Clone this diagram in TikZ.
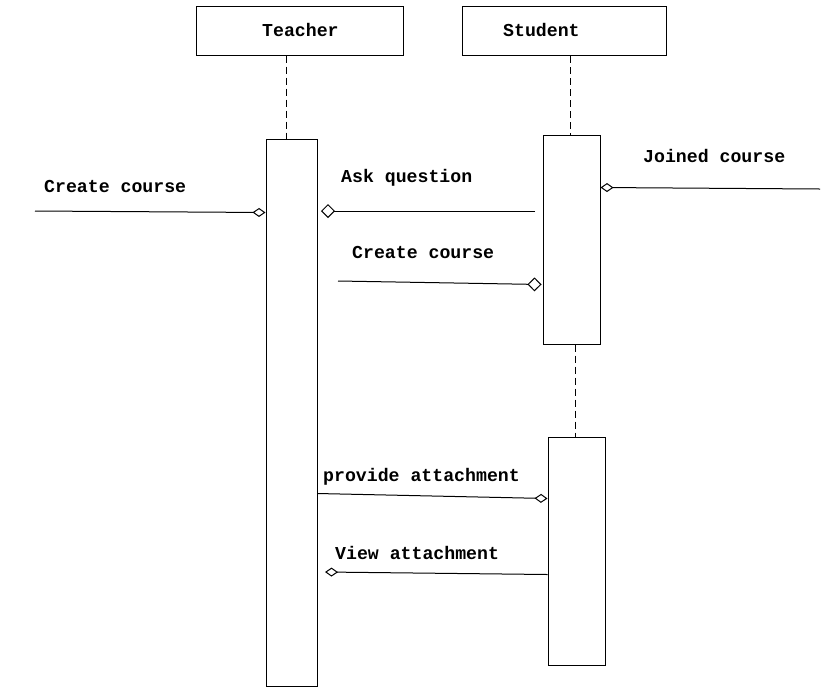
\documentclass[tikz,border=0pt]{standalone}
\usepackage{fontspec}
\setmonofont{Liberation Mono}
\usetikzlibrary{arrows.meta}
\tikzset{
	actor/.style={draw, line width=1pt, inner sep=0pt, minimum width=#1, minimum height=49pt},
	actbar/.style={draw, line width=1pt, inner sep=0pt, minimum width=#1},
	lbl/.style={anchor=base west, inner sep=0pt, font=\fontsize{18.2}{20}\selectfont\ttfamily\bfseries},
	lifeline/.style={line width=1pt, dash pattern=on 7pt off 4pt},
	msgline/.style={line width=1pt},
	bigdiam/.style={msgline, -{Diamond[open, length=14pt, width=14pt, line width=1pt]}},
	smalldiam/.style={msgline, -{Diamond[open, length=13pt, width=9pt, line width=1pt]}}
}

\begin{document}
\begin{tikzpicture}[x=1pt, y=-1pt]
			%%%%% START %%%%%
			
			\useasboundingbox (0, 0) rectangle (837, 697);
			
			% actors
			\node[actor=207pt] (teacher) at (299.5, 30.5) {};
			\node[actor=204pt] (student) at (564, 31) {};
			\node[lbl] (teacherlbl) at (262, 36) {Teacher};
			\node[lbl] (studentlbl) at (503, 36) {Student};
			
			% activation bars
			\node[actbar=51pt, minimum height=547pt] (tact) at (291.5, 412.5) {};
			\node[actbar=57pt, minimum height=209pt] (sact) at (571.5, 239.5) {};
			\node[actbar=57pt, minimum height=228pt] (sacttwo) at (576.5, 551) {};
			
			% lifelines
			\coordinate (tline) at (286, 0);
			\coordinate (sline) at (570, 0);
			\coordinate (slinetwo) at (575, 0);
			\draw[lifeline] (teacher.south -| tline) -- (tact.north -| tline);
			\draw[lifeline] (student.south -| sline) -- (sact.north -| sline);
			\draw[lifeline] (sact.south -| slinetwo) -- (sacttwo.north -| slinetwo);
			
			% free ends of the messages
			\coordinate (createin) at (35, 211);
			\coordinate (askfrom) at (535, 211);
			\coordinate (askto) at (321, 211);
			\coordinate (createfrom) at (338, 281);
			\coordinate (joinedin) at (820, 189);
			\coordinate (viewto) at (325, 572);
			
			% messages
			\draw[smalldiam] (createin) -- ([yshift=-74pt]tact.north west);
			\node[lbl] (createlbl) at (44, 192) {Create course};
			
			\draw[bigdiam] (askfrom) -- (askto);
			\node[lbl] (asklbl) at (341, 182) {Ask question};
			
			\draw[bigdiam] (createfrom) -- ([yshift=-150pt, xshift=-1pt]sact.north west);
			\node[lbl] (createtwolbl) at (352, 258) {Create course};
			
			\draw[smalldiam] (joinedin) -- ([yshift=-53pt]sact.north east);
			\node[lbl] (joinedlbl) at (643, 162) {Joined course};
			
			\draw[smalldiam] ([yshift=-355pt]tact.north east) -- ([yshift=-62pt]sacttwo.north west);
			\node[lbl] (providelbl) at (323, 481) {provide attachment};
			
			\draw[smalldiam] ([yshift=-138pt]sacttwo.north west) -- (viewto);
			\node[lbl] (viewlbl) at (335, 559) {View attachment};
			
			%%%%% END %%%%%
		\end{tikzpicture}
\end{document}
